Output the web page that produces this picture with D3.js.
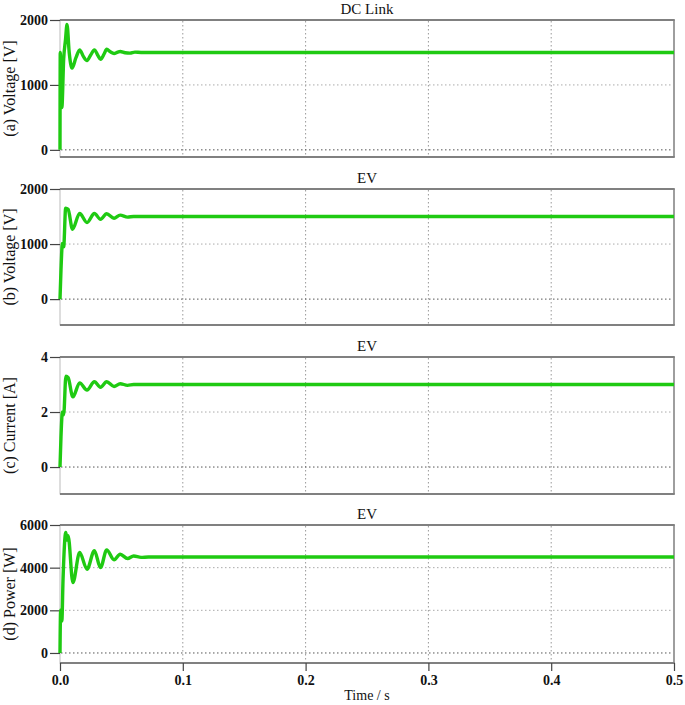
<!DOCTYPE html>
<meta charset="utf-8">
<style>
body { margin: 0; background: #fff; }
svg text { font-family: "Liberation Serif", "DejaVu Serif", serif; fill: #111; }
.tick text { font-size: 14px; }
</style>
<body>
<svg id="chart" width="685" height="705"></svg>
<script src="https://cdn.jsdelivr.net/npm/d3@7"></script>
<script>
// values (time in s)
var timeTicks = [0, 0.1, 0.2, 0.3, 0.4, 0.5];
var titles = ["DC Link", "EV", "EV", "EV"];
var yLabels = ["(a) Voltage [V]", "(b) Voltage [V]", "(c) Current [A]", "(d) Power [W]"];
var yTicksA = [0, 1000, 2000];
var yTicksB = [0, 1000, 2000];
var yTicksC = [0, 2, 4];
var yTicksD = [0, 2000, 4000, 6000];

var dcLinkT = [0, 0.0002, 0.0015, 0.003, 0.0045, 0.0057, 0.0075, 0.0098, 0.013, 0.016, 0.019, 0.022, 0.025, 0.028, 0.031, 0.033, 0.036, 0.038, 0.041, 0.044, 0.047, 0.049, 0.053, 0.057, 0.061, 0.066, 0.5];
var dcLinkV = [0, 1500, 650, 1400, 1700, 1930, 1500, 1260, 1420, 1540, 1440, 1375, 1460, 1540, 1450, 1395, 1480, 1550, 1510, 1485, 1505, 1515, 1495, 1490, 1505, 1500, 1500];

var evVoltT = [0, 0.0008, 0.002, 0.003, 0.0046, 0.0066, 0.0102, 0.016, 0.022, 0.028, 0.033, 0.038, 0.044, 0.049, 0.055, 0.06, 0.5];
var evVoltV = [0, 530, 1010, 950, 1650, 1630, 1270, 1555, 1390, 1555, 1450, 1550, 1470, 1525, 1490, 1500, 1500];

var evCurrT = [0, 0.0008, 0.002, 0.003, 0.0048, 0.0066, 0.0105, 0.016, 0.022, 0.028, 0.033, 0.038, 0.044, 0.049, 0.055, 0.06, 0.5];
var evCurrI = [0, 1.1, 2.0, 1.9, 3.3, 3.25, 2.55, 3.06, 2.8, 3.1, 2.9, 3.1, 2.93, 3.03, 2.97, 3.0, 3.0];

var evPowT = [0, 0.0005, 0.0015, 0.0025, 0.0047, 0.0058, 0.0066, 0.0105, 0.016, 0.022, 0.028, 0.033, 0.038, 0.044, 0.049, 0.055, 0.06, 0.066, 0.072, 0.5];
var evPowP = [0, 2000, 1500, 3500, 5650, 5300, 5500, 3300, 4710, 3925, 4790, 4000, 4835, 4365, 4630, 4430, 4550, 4480, 4500, 4500];

var svg = d3.select("#chart");
var left = 60, right = 674;

var x = d3.scaleLinear().domain([0, 0.5]).range([left, right]);

var panels = [
  { t: dcLinkT, v: dcLinkV, ticks: yTicksA, dom: [-110, 2000], top: 20, bottom: 157 },
  { t: evVoltT, v: evVoltV, ticks: yTicksB, dom: [-470, 2000], top: 189, bottom: 325 },
  { t: evCurrT, v: evCurrI, ticks: yTicksC, dom: [-0.98, 4], top: 357, bottom: 494 },
  { t: evPowT, v: evPowP, ticks: yTicksD, dom: [-470, 6000], top: 525, bottom: 663 }
];

panels.forEach(function(p, i) {
  var y = d3.scaleLinear().domain(p.dom).range([p.bottom, p.top]);
  var g = svg.append("g");

  // frame
  g.append("rect")
    .attr("x", left).attr("y", p.top)
    .attr("width", right - left).attr("height", p.bottom - p.top)
    .attr("fill", "none").attr("stroke", "#bbb").attr("stroke-width", 1);
  g.append("line").attr("x1", right).attr("x2", right).attr("y1", p.top).attr("y2", p.bottom)
    .attr("stroke", "#888").attr("stroke-width", 1.5);
  [p.top, p.bottom].forEach(function(yy) {
    g.append("line").attr("x1", left).attr("x2", right + 0.75).attr("y1", yy).attr("y2", yy)
      .attr("stroke", "#808080").attr("stroke-width", 2);
  });

  // grid
  g.selectAll(".vgrid").data(timeTicks.slice(1, -1)).enter().append("line")
    .attr("x1", function(d) { return x(d); }).attr("x2", function(d) { return x(d); })
    .attr("y1", p.top + 1).attr("y2", p.bottom - 1)
    .attr("stroke", "#999").attr("stroke-width", 1).attr("stroke-dasharray", "1.5,2.5");
  g.selectAll(".hgrid").data(p.ticks.filter(function(d) { return y(d) > p.top + 2; })).enter().append("line")
    .attr("x1", left + 1).attr("x2", right - 1)
    .attr("y1", function(d) { return y(d); }).attr("y2", function(d) { return y(d); })
    .attr("stroke", function(d) { return d === 0 ? "#555" : "#aaa"; })
    .attr("stroke-width", 1).attr("stroke-dasharray", "1.5,2.5");

  // y axis
  var yAxis = g.append("g").attr("transform", "translate(" + left + ",0)")
    .call(d3.axisLeft(y).tickValues(p.ticks).tickSize(10).tickPadding(2).tickFormat(d3.format("d")));
  yAxis.select(".domain").remove();
  yAxis.selectAll(".tick line").attr("stroke", "#444").attr("stroke-width", 1.2);
  yAxis.selectAll(".tick text").attr("font-size", 14).attr("font-weight", "bold").attr("fill", "#222");

  // title and y label
  g.append("text").attr("x", (left + right) / 2).attr("y", p.top - 6)
    .attr("text-anchor", "middle").attr("font-size", 15).text(titles[i]);
  g.append("text")
    .attr("transform", "translate(15," + (p.top + p.bottom) / 2 + ") rotate(-90)")
    .attr("text-anchor", "middle").attr("font-size", 16).text(yLabels[i]);

  // signal
  var pts = p.t.map(function(t, k) { return [t, p.v[k]]; });
  var line = d3.line()
    .x(function(d) { return x(d[0]); })
    .y(function(d) { return y(d[1]); })
    .curve(d3.curveMonotoneX);
  g.append("path").datum(pts)
    .attr("d", line).attr("fill", "none")
    .attr("stroke", "#1fca12").attr("stroke-width", 3.4).attr("stroke-linejoin", "round");

  // x axis on last panel
  if (i === panels.length - 1) {
    var xAxis = g.append("g").attr("transform", "translate(0," + p.bottom + ")")
      .call(d3.axisBottom(x).tickValues(timeTicks).tickSize(8).tickPadding(4).tickFormat(d3.format(".1f")));
    xAxis.select(".domain").remove();
    xAxis.selectAll(".tick line").attr("stroke", "#444").attr("stroke-width", 1.2);
    xAxis.selectAll(".tick text").attr("font-size", 14).attr("font-weight", "bold").attr("fill", "#222");
    g.append("text").attr("x", (left + right) / 2).attr("y", 700)
      .attr("text-anchor", "middle").attr("font-size", 14).text("Time / s");
  }
});
</script>
</body>
